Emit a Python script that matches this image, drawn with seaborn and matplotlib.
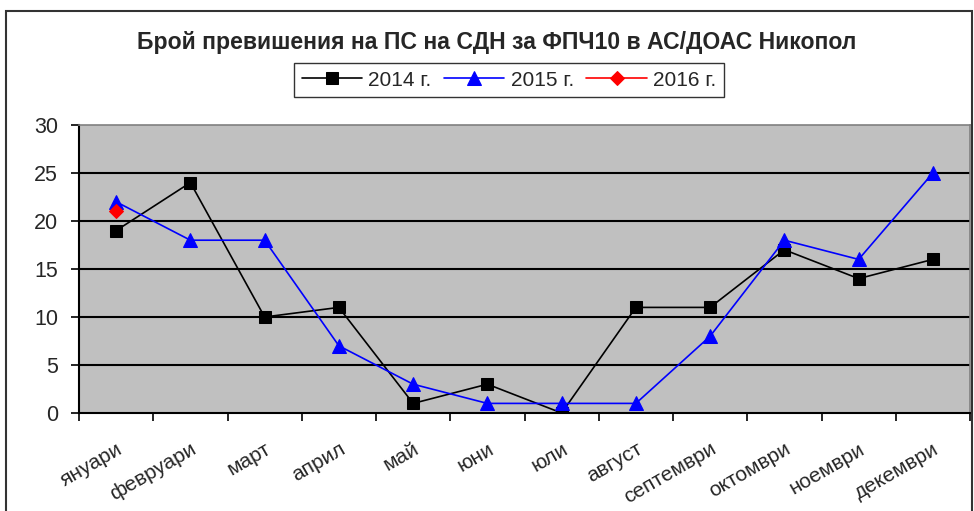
import seaborn as sns
import matplotlib.pyplot as plt
import matplotlib.transforms as mtrans
import pandas as pd
import numpy as np
from matplotlib.patches import Rectangle

sns.set_style("white")
plt.rcParams['font.family'] = ['Liberation Sans', 'DejaVu Sans']

# Данни
months = ['януари', 'февруари', 'март', 'април', 'май', 'юни', 'юли',
          'август', 'септември', 'октомври', 'ноември', 'декември']
y2014 = [19, 24, 10, 11, 1, 3, 0, 11, 11, 17, 14, 16]
y2015 = [22, 18, 18, 7, 3, 1, 1, 1, 8, 18, 16, 25]
y2016 = [21]

pos = np.arange(len(months))
df14 = pd.DataFrame({'pos': pos, 'value': y2014})
df15 = pd.DataFrame({'pos': pos, 'value': y2015})
df16 = pd.DataFrame({'pos': pos[:len(y2016)], 'value': y2016})

fig = plt.figure(figsize=(9.74, 5.11), dpi=100)
ax = fig.add_axes([79 / 974, 1 - 413 / 511, (970 - 79) / 974, (413 - 125) / 511])
ax.set_facecolor('#C0C0C0')

# рамка на цялата диаграма
fig.patches.append(Rectangle((6 / 974, -0.1), 966 / 974, 1.1 - 11 / 511,
                             transform=fig.transFigure, fill=False,
                             edgecolor='#333333', linewidth=1.5, zorder=0))

for y in range(5, 30, 5):
    ax.axhline(y, color='black', linewidth=1.5, zorder=1)

sns.lineplot(data=df14, x='pos', y='value', ax=ax, color='black', marker='s',
             markersize=8.5, markeredgecolor='black', linewidth=1.2, label='2014 г.', zorder=3)
sns.lineplot(data=df15, x='pos', y='value', ax=ax, color='blue', marker='^',
             markersize=9.5, markeredgecolor='blue', linewidth=1.2, label='2015 г.', zorder=4)
sns.lineplot(data=df16, x='pos', y='value', ax=ax, color='red', marker='D',
             markersize=7, markeredgecolor='red', linewidth=1.2, label='2016 г.', zorder=5)

ax.set_xlim(-0.5, 11.5)
ax.set_ylim(0, 30)
ax.set_yticks(range(0, 31, 5))
ax.set_xticks(pos)
ax.set_xticklabels(months, rotation=30, ha='right', rotation_mode='anchor', fontsize=15)
shift = mtrans.ScaledTranslation(-8 / 100, 0, fig.dpi_scale_trans)
for lbl in ax.get_xticklabels():
    lbl.set_transform(lbl.get_transform() + shift)
ax.set_xticks(np.arange(-0.5, 12, 1), minor=True)
ax.tick_params(axis='x', which='major', length=0, pad=19)
ax.tick_params(axis='x', which='minor', length=6, width=1.2, color='black', direction='out', bottom=True)
ax.tick_params(axis='y', length=6, width=1.2, color='black', direction='out', left=True,
               labelsize=15.5, pad=9)
ax.set_xlabel('')
ax.set_ylabel('')

for side in ['top', 'right']:
    ax.spines[side].set_color('#808080')
    ax.spines[side].set_linewidth(1.2)
for side in ['left', 'bottom']:
    ax.spines[side].set_color('black')
    ax.spines[side].set_linewidth(1.5)

fig.text(497 / 974, 1 - 42 / 511, 'Брой превишения на ПС на СДН за ФПЧ10 в АС/ДОАС Никопол',
         ha='center', va='center', fontsize=16.6, fontweight='bold')

leg = ax.legend(loc='center', bbox_to_anchor=(509 / 974, 1 - 80 / 511),
                bbox_transform=fig.transFigure, ncol=3, fontsize=15, frameon=True,
                fancybox=False, edgecolor='black', handlelength=2.9, handletextpad=0.3,
                columnspacing=0.6, borderpad=0.35)
leg.get_frame().set_linewidth(1.0)

fig.savefig('out.png', dpi=100)
